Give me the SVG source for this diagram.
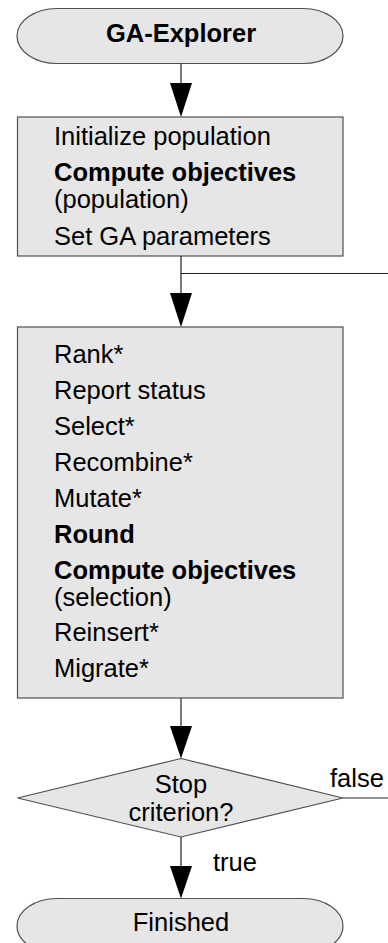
<svg xmlns="http://www.w3.org/2000/svg" width="388" height="943" viewBox="0 0 388 943">
<style>
.shape{fill:#e6e6e6;stroke:#505050;stroke-width:1.2}
.t{font-family:"Liberation Sans",Arial,sans-serif;font-size:25.5px;fill:#000}
.b{font-weight:bold}
.m{text-anchor:middle}
.ln{fill:none;stroke:#222;stroke-width:1.2}
.ah{fill:#000}
</style>
<rect width="388" height="943" fill="#fff"/>
<g id="start">
<path class="shape" d="M57,8.5 H303 A40,27.5 0 0 1 303,63.5 H57 A40,27.5 0 0 1 57,8.5 Z"/>
<text class="t b m" x="181" y="41.5">GA-Explorer</text>
</g>
<g id="init">
<rect class="shape" x="17.5" y="117" width="325.5" height="139"/>
<text class="t" x="54" y="145">Initialize population</text>
<text class="t b" x="54" y="181">Compute objectives</text>
<text class="t" x="54" y="208">(population)</text>
<text class="t" x="54" y="244.5">Set GA parameters</text>
</g>
<g id="loop">
<rect class="shape" x="17.5" y="327" width="325.5" height="371"/>
<text class="t" x="54" y="363">Rank*</text>
<text class="t" x="54" y="399">Report status</text>
<text class="t" x="54" y="435">Select*</text>
<text class="t" x="54" y="470.5">Recombine*</text>
<text class="t" x="54" y="506.5">Mutate*</text>
<text class="t b" x="54" y="542.5">Round</text>
<text class="t b" x="54" y="578.5">Compute objectives</text>
<text class="t" x="54" y="605.5">(selection)</text>
<text class="t" x="54" y="641">Reinsert*</text>
<text class="t" x="54" y="677">Migrate*</text>
</g>
<g id="stop">
<polygon class="shape" points="181,758.5 343,798 181,837 17.5,798"/>
<text class="t m" x="181" y="793">Stop</text>
<text class="t m" x="181" y="821">criterion?</text>
</g>
<g id="finished">
<path class="shape" d="M57,898.5 H303 A40,27.5 0 0 1 303,953.5 H57 A40,27.5 0 0 1 57,898.5 Z"/>
<text class="t m" x="181" y="931">Finished</text>
</g>
<g id="connectors">
<path class="ln" d="M181,63.5 V90"/>
<polygon class="ah" points="170,83 192,83 181,117"/>
<path class="ln" d="M181,256 V300 M181,273.5 H388"/>
<polygon class="ah" points="170,293 192,293 181,327"/>
<path class="ln" d="M181,698 V730"/>
<polygon class="ah" points="170,726 192,726 181,758.5"/>
<path class="ln" d="M343,798 H388"/>
<text class="t" x="330" y="787">false</text>
<path class="ln" d="M181,837 V870"/>
<polygon class="ah" points="170,866 192,866 181,898.5"/>
<text class="t" x="213" y="871">true</text>
</g>
</svg>
